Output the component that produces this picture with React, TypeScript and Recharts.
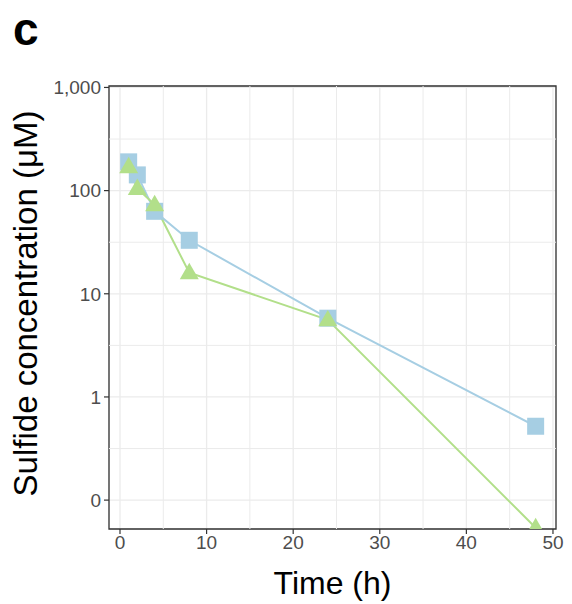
import { ComposedChart, Line, Scatter, XAxis, YAxis, CartesianGrid, ReferenceLine, ReferenceArea } from 'recharts';

const hours = [1, 2, 4, 8, 24, 48];
const blueVals = [190, 142, 63, 33, 5.8, 0.52];
const greenVals = [171, 105, 73, 16, 5.6, 0.054];

const xTicks = [0, 10, 20, 30, 40, 50];
const xMinor = [5, 15, 25, 35, 45];
const yTicks = [0.1, 1, 10, 100, 1000];
const yMinor = [0.316, 3.16, 31.6, 316];

const Y_MIN = Math.pow(10, -1.28);
const Y_MAX = Math.pow(10, 3.014);
const X_MIN = -1.27;
const X_MAX = 50.35;

const BLUE = '#a6cee3';
const GREEN = '#b2df8a';
const FONT = 'Liberation Sans, Arial, sans-serif';

const blueData = hours.map((h, i) => ({ x: h, y: blueVals[i] }));
const greenData = hours.map((h, i) => ({ x: h, y: greenVals[i] }));

function Square(props: any) {
  const { cx, cy } = props;
  return <rect x={cx - 8.5} y={cy - 8.5} width={17} height={17} fill={BLUE} />;
}

function Triangle(props: any) {
  const { cx, cy } = props;
  const s = 19;
  const h = s * 0.866;
  return (
    <polygon
      points={`${cx},${cy - h * 0.6} ${cx - s / 2},${cy + h * 0.4} ${cx + s / 2},${cy + h * 0.4}`}
      fill={GREEN}
    />
  );
}

const fmtY = (v: number) => (v < 1 ? '0' : v.toLocaleString('en-US'));

export default function App() {
  return (
    <div style={{ position: 'absolute', left: 0, top: 0, width: 572, height: 604, background: '#fff', fontFamily: FONT }}>
      <div style={{ position: 'absolute', left: 13, top: 2, fontSize: 46, fontWeight: 'bold', color: '#000' }}>c</div>
      <ComposedChart width={572} height={604} margin={{ top: 86, right: 16, bottom: 0, left: 0 }}>
        <CartesianGrid stroke="#ebebeb" strokeWidth={1.3} />
        {xMinor.map((v) => (
          <ReferenceLine key={'x' + v} x={v} stroke="#ebebeb" strokeWidth={1} />
        ))}
        {yMinor.map((v) => (
          <ReferenceLine key={'y' + v} y={v} stroke="#ebebeb" strokeWidth={1} />
        ))}
        <XAxis
          type="number"
          dataKey="x"
          domain={[X_MIN, X_MAX]}
          ticks={xTicks}
          allowDataOverflow
          height={75}
          tickSize={5}
          tickMargin={2}
          axisLine={false}
          tickLine={{ stroke: '#333', strokeWidth: 1.2 }}
          tick={{ fontSize: 19, fill: '#4d4d4d', fontFamily: FONT }}
          label={{ value: 'Time (h)', position: 'insideBottom', offset: 10, fontSize: 32, fill: '#000', fontFamily: FONT }}
        />
        <YAxis
          type="number"
          dataKey="y"
          scale="log"
          domain={[Y_MIN, Y_MAX]}
          ticks={yTicks}
          allowDataOverflow
          width={109}
          tickSize={5}
          tickMargin={3}
          axisLine={false}
          tickLine={{ stroke: '#333', strokeWidth: 1.2 }}
          tickFormatter={fmtY}
          tick={{ fontSize: 19, fill: '#4d4d4d', fontFamily: FONT }}
          label={{ value: 'Sulfide concentration (μM)', angle: -90, position: 'insideLeft', offset: 25, dy: -4, fontSize: 33, fill: '#000', fontFamily: FONT, style: { textAnchor: 'middle' } }}
        />
        <Line data={blueData} dataKey="y" stroke={BLUE} strokeWidth={2} dot={false} isAnimationActive={false} />
        <Line data={greenData} dataKey="y" stroke={GREEN} strokeWidth={2} dot={false} isAnimationActive={false} />
        <Scatter data={blueData} dataKey="y" shape={Square} isAnimationActive={false} />
        <Scatter data={greenData} dataKey="y" shape={Triangle} isAnimationActive={false} />
        <ReferenceArea x1={X_MIN} x2={X_MAX} y1={Y_MIN} y2={Y_MAX} fill="none" stroke="#333" strokeWidth={1.3} />
      </ComposedChart>
    </div>
  );
}
